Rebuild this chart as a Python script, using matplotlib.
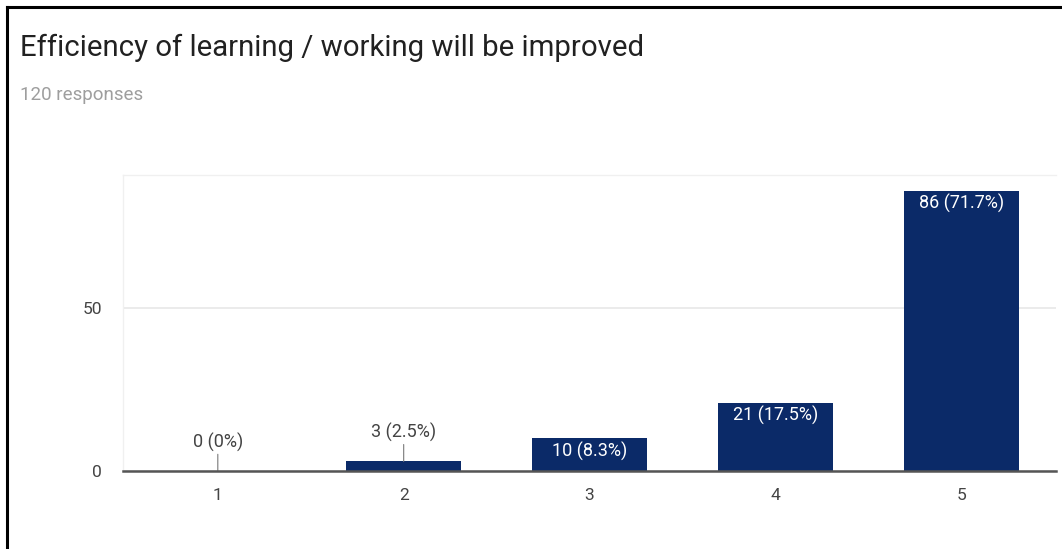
import matplotlib
matplotlib.use("Agg")
import matplotlib.pyplot as plt
from matplotlib.lines import Line2D

categories = ["1", "2", "3", "4", "5"]
counts = [0, 3, 10, 21, 86]
percents = ["0%", "2.5%", "8.3%", "17.5%", "71.7%"]
yticks = [0, 50]
title = "Efficiency of learning / working will be improved"
subtitle = "120 responses"

plt.rcParams['font.family'] = ['Roboto', 'DejaVu Sans']

fig = plt.figure(figsize=(10.62, 5.49), dpi=100)
fig.patch.set_facecolor('white')
ax = fig.add_axes([123/1062, 78/549, 933/1062, 296/549])

x = list(range(1, len(categories) + 1))
bar_color = '#0b2a68'
ax.bar(x, counts, width=0.62, color=bar_color, zorder=3)

ax.set_xlim(0.49, 5.51)
ax.set_ylim(0, 90.8)
ax.set_xticks(x)
ax.set_xticklabels(categories)
ax.set_yticks(yticks)
ax.tick_params(axis='both', length=0, labelsize=12.5, colors='#444444')
ax.tick_params(axis='x', pad=12)
ax.tick_params(axis='y', pad=15)
ax.grid(axis='y', color='#e8e8e8', linewidth=1.2, zorder=0)
for s in ['top', 'left', 'right']:
    ax.spines[s].set_color('#f0f0f0')
    ax.spines[s].set_linewidth(1.0)
ax.spines['right'].set_visible(False)
ax.spines['bottom'].set_color('#555555')
ax.spines['bottom'].set_linewidth(1.8)
ax.spines['bottom'].set_zorder(4)

for xi, c, p in zip(x, counts, percents):
    label = f"{c} ({p})"
    if c < 8:
        ax.annotate(label, xy=(xi, c), xytext=(0, 14), textcoords='offset points',
                    ha='center', va='bottom', fontsize=13, color='#444444',
                    arrowprops=dict(arrowstyle='-', color='#888888', lw=0.9,
                                    shrinkA=0, shrinkB=0))
    else:
        ax.annotate(label, xy=(xi, c), xytext=(0, -2.5), textcoords='offset points',
                    ha='center', va='top', fontsize=13, color='white', zorder=5)

fig.text(20/1062, 1 - 48/549, title, fontsize=21.2, color='#212121',
         ha='left', va='center')
fig.text(20/1062, 1 - 95/549, subtitle, fontsize=13.5, color='#9e9e9e',
         ha='left', va='center')

# frame lines of the screenshot
fig.add_artist(Line2D([7/1062, 1.0], [1 - 7/549, 1 - 7/549], color='black', lw=2.2,
                      transform=fig.transFigure))
fig.add_artist(Line2D([7/1062, 7/1062], [0, 1 - 7/549], color='black', lw=2.2,
                      transform=fig.transFigure))

fig.savefig("out.png", dpi=100)
